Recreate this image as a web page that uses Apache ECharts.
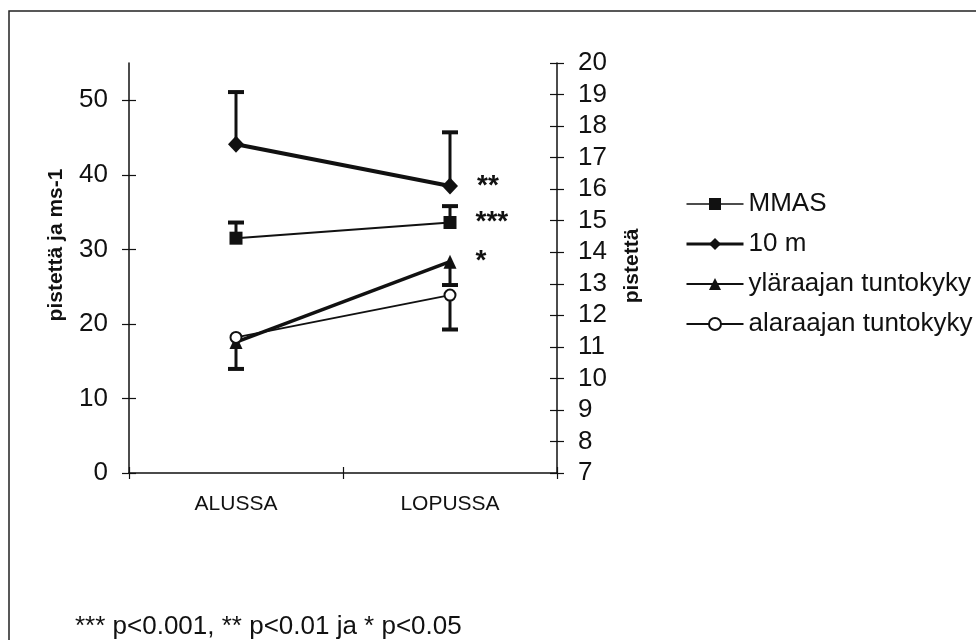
<!DOCTYPE html>
<html><head><meta charset="utf-8">
<script src="https://cdn.jsdelivr.net/npm/echarts@6/dist/echarts.min.js"></script>
<style>html,body{margin:0;padding:0;background:#fff}#c{width:976px;height:640px}</style>
</head><body><div id="c"></div>
<script>
// ---- data ----
const categories = ['ALUSSA', 'LOPUSSA'];
const seriesNames = ['MMAS', '10 m', 'yläraajan tuntokyky', 'alaraajan tuntokyky'];
const mmas = [31.5, 33.6];
const tenM = [44.1, 38.5];
const ylaraaja = [11.15, 13.7];   // right axis
const alaraaja = [11.3, 12.64];   // right axis
const mmasErrEnd = [33.6, 35.8];
const tenMErrEnd = [51.1, 45.7];
const ylaraajaErrEnd = [10.3, 12.96];
const alaraajaErrEnd = [null, 11.55];
const mmasSig = ['', '***'];
const tenMSig = ['', '**'];
const ylaraajaSig = ['', '*'];
const leftTicks = [0, 10, 20, 30, 40, 50];
const rightTicks = [7, 8, 9, 10, 11, 12, 13, 14, 15, 16, 17, 18, 19, 20];
const leftTitle = 'pistettä ja ms-1';
const rightTitle = 'pistettä';
const footnote = '*** p<0.001, ** p<0.01 ja * p<0.05';

const FONT = '"Liberation Sans", Arial, sans-serif';
const INK = '#111';

function errorSeries(means, ends, yAxisIndex) {
  const data = [];
  means.forEach((m, i) => { if (ends[i] != null) data.push([i, m, ends[i]]); });
  return {
    type: 'custom', yAxisIndex: yAxisIndex, data: data, z: 1, silent: true,
    encode: { x: 0, y: [1, 2] },
    renderItem: function (params, api) {
      const x = api.value(0);
      const p0 = api.coord([x, api.value(1)]);
      const p1 = api.coord([x, api.value(2)]);
      const hw = 8;
      return { type: 'group', children: [
        { type: 'line', shape: { x1: p0[0], y1: p0[1], x2: p1[0], y2: p1[1] }, style: { stroke: INK, lineWidth: 3 } },
        { type: 'line', shape: { x1: p1[0] - hw, y1: p1[1], x2: p1[0] + hw, y2: p1[1] }, style: { stroke: INK, lineWidth: 4 } }
      ] };
    }
  };
}

function starLabel(sig) {
  return { show: true, position: 'right', distance: 19, color: INK, fontSize: 28, fontWeight: 'bold', fontFamily: FONT,
    formatter: p => sig[p.dataIndex] };
}

const chart = echarts.init(document.getElementById('c'), null, { renderer: 'canvas' });
chart.setOption({
  animation: false,
  backgroundColor: '#fff',
  textStyle: { fontFamily: FONT, color: INK },
  grid: { left: 129, right: 419, top: 63, bottom: 167 },
  legend: {
    orient: 'vertical', left: 680, top: 186, itemGap: 14, itemWidth: 57, itemHeight: 15, itemTextGap: 5,
    data: [
      { name: seriesNames[0], lineStyle: { width: 1.5 } },
      { name: seriesNames[1], lineStyle: { width: 3 } },
      { name: seriesNames[2], lineStyle: { width: 2 } },
      { name: seriesNames[3], lineStyle: { width: 2 } }
    ],
    textStyle: { fontSize: 26, color: INK, fontFamily: FONT, lineHeight: 26 }
  },
  xAxis: [
    { type: 'category', data: categories, boundaryGap: true,
      axisLine: { lineStyle: { color: INK, width: 1.5 } },
      axisTick: { show: true, length: 6, lineStyle: { color: INK, width: 1.2 } },
      axisLabel: { fontSize: 21, color: INK, margin: 21, fontFamily: FONT },
      splitLine: { show: false } },
    { type: 'category', data: categories, boundaryGap: true, position: 'bottom',
      axisLine: { show: false },
      axisTick: { show: true, inside: true, length: 6, lineStyle: { color: INK, width: 1.2 } },
      axisLabel: { show: false }, splitLine: { show: false } }
  ],
  yAxis: [
    { type: 'value', min: 0, max: 55, interval: 10, position: 'left',
      axisLine: { show: true, lineStyle: { color: INK, width: 1.5 } },
      axisTick: { show: true, length: 7, customValues: leftTicks, lineStyle: { color: INK, width: 1.2 } },
      axisLabel: { fontSize: 26, color: INK, margin: 21, customValues: leftTicks, fontFamily: FONT },
      splitLine: { show: false } },
    { type: 'value', min: 7, max: 20, interval: 1, position: 'right',
      axisLine: { show: true, lineStyle: { color: INK, width: 1.5 } },
      axisTick: { show: true, length: 7, customValues: rightTicks, lineStyle: { color: INK, width: 1.2 } },
      axisLabel: { fontSize: 26, color: INK, margin: 21, customValues: rightTicks, fontFamily: FONT },
      splitLine: { show: false } },
    { type: 'value', min: 0, max: 55, interval: 10, position: 'left',
      axisLine: { show: false },
      axisTick: { show: true, inside: true, length: 7, customValues: leftTicks, lineStyle: { color: INK, width: 1.2 } },
      axisLabel: { show: false }, splitLine: { show: false } },
    { type: 'value', min: 7, max: 20, interval: 1, position: 'right',
      axisLine: { show: false },
      axisTick: { show: true, inside: true, length: 7, customValues: rightTicks, lineStyle: { color: INK, width: 1.2 } },
      axisLabel: { show: false }, splitLine: { show: false } }
  ],
  graphic: [
    { type: 'rect', z: -10, silent: true,
      shape: { x: 9, y: 11, width: 1200, height: 900 }, style: { fill: 'none', stroke: '#222', lineWidth: 1.5 } },
    { type: 'text', x: 56, y: 245, rotation: Math.PI / 2, silent: true,
      style: { text: leftTitle, font: 'bold 21px ' + FONT, fill: INK, align: 'center', verticalAlign: 'middle' } },
    { type: 'text', x: 632, y: 266, rotation: Math.PI / 2, silent: true,
      style: { text: rightTitle, font: 'bold 21px ' + FONT, fill: INK, align: 'center', verticalAlign: 'middle' } },
    { type: 'text', x: 75, y: 627, silent: true,
      style: { text: footnote, font: '26px ' + FONT, fill: INK, align: 'left', verticalAlign: 'middle' } }
  ],
  series: [
    errorSeries(mmas, mmasErrEnd, 0),
    errorSeries(tenM, tenMErrEnd, 0),
    errorSeries(ylaraaja, ylaraajaErrEnd, 1),
    errorSeries(alaraaja, alaraajaErrEnd, 1),
    { name: seriesNames[0], type: 'line', yAxisIndex: 0, data: mmas, z: 3,
      symbol: 'rect', symbolSize: [13, 13], color: INK,
      lineStyle: { color: INK, width: 2 }, itemStyle: { color: INK },
      label: starLabel(mmasSig) },
    { name: seriesNames[1], type: 'line', yAxisIndex: 0, data: tenM, z: 3,
      symbol: 'diamond', symbolSize: [16, 17], color: INK,
      lineStyle: { color: INK, width: 4 }, itemStyle: { color: INK },
      label: starLabel(tenMSig) },
    { name: seriesNames[2], type: 'line', yAxisIndex: 1, data: ylaraaja, z: 3,
      symbol: 'triangle', symbolSize: [13, 14], color: INK,
      lineStyle: { color: INK, width: 3.5 }, itemStyle: { color: INK },
      label: starLabel(ylaraajaSig) },
    { name: seriesNames[3], type: 'line', yAxisIndex: 1, data: alaraaja, z: 4,
      symbol: 'emptyCircle', symbolSize: 11, color: INK,
      lineStyle: { color: INK, width: 2 }, itemStyle: { color: INK, borderColor: INK, borderWidth: 2 } }
  ]
});
</script>
</body></html>
